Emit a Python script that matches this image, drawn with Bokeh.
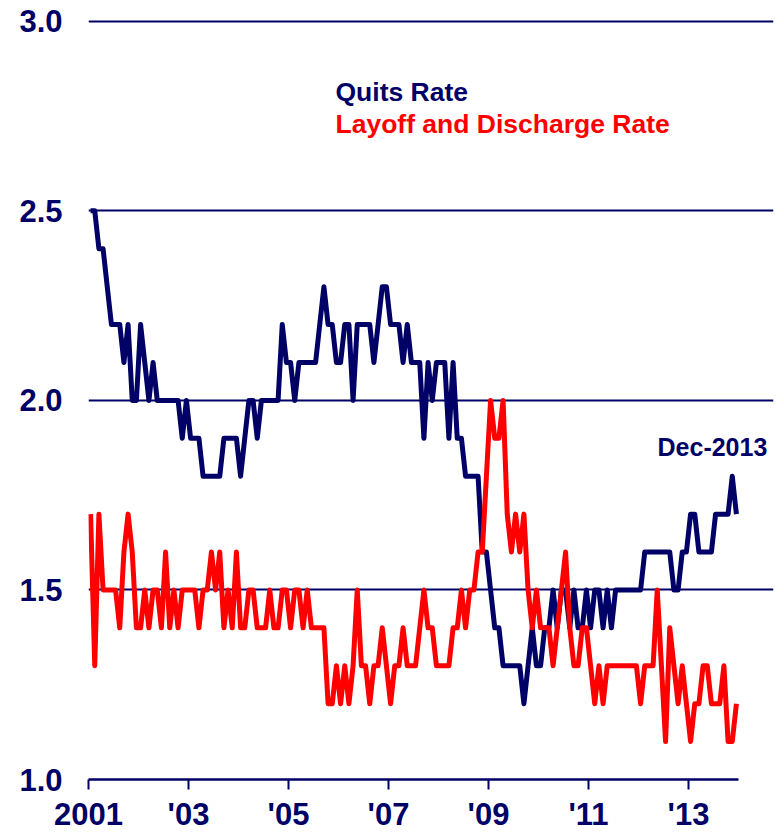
from bokeh.plotting import figure
from bokeh.models import Range1d, FixedTicker, Label, PrintfTickFormatter
from bokeh.embed import file_html
from bokeh.resources import INLINE

years = list(range(2001, 2014))

# Monthly rates (%), Jan 2001 .. Dec 2013, one row per year
quits_rate = [
    2.5, 2.5, 2.4, 2.4, 2.3, 2.2, 2.2, 2.2, 2.1, 2.2, 2.0, 2.0,  # 2001
    2.2, 2.1, 2.0, 2.1, 2.0, 2.0, 2.0, 2.0, 2.0, 2.0, 1.9, 2.0,  # 2002
    1.9, 1.9, 1.9, 1.8, 1.8, 1.8, 1.8, 1.8, 1.9, 1.9, 1.9, 1.9,  # 2003
    1.8, 1.9, 2.0, 2.0, 1.9, 2.0, 2.0, 2.0, 2.0, 2.0, 2.2, 2.1,  # 2004
    2.1, 2.0, 2.1, 2.1, 2.1, 2.1, 2.1, 2.2, 2.3, 2.2, 2.2, 2.1,  # 2005
    2.1, 2.2, 2.2, 2.0, 2.2, 2.2, 2.2, 2.2, 2.1, 2.2, 2.3, 2.3,  # 2006
    2.2, 2.2, 2.2, 2.1, 2.2, 2.1, 2.1, 2.1, 1.9, 2.1, 2.0, 2.1,  # 2007
    2.1, 2.1, 1.9, 2.1, 1.9, 1.9, 1.8, 1.8, 1.8, 1.8, 1.6, 1.6,  # 2008
    1.5, 1.4, 1.4, 1.3, 1.3, 1.3, 1.3, 1.3, 1.2, 1.3, 1.4, 1.3,  # 2009
    1.3, 1.4, 1.4, 1.5, 1.4, 1.5, 1.5, 1.4, 1.5, 1.4, 1.4, 1.5,  # 2010
    1.4, 1.5, 1.5, 1.4, 1.5, 1.4, 1.5, 1.5, 1.5, 1.5, 1.5, 1.5,  # 2011
    1.5, 1.6, 1.6, 1.6, 1.6, 1.6, 1.6, 1.6, 1.5, 1.5, 1.6, 1.6,  # 2012
    1.7, 1.7, 1.6, 1.6, 1.6, 1.6, 1.7, 1.7, 1.7, 1.7, 1.8, 1.7,  # 2013
]

layoff_rate = [
    1.7, 1.3, 1.7, 1.5, 1.5, 1.5, 1.5, 1.4, 1.6, 1.7, 1.6, 1.4,  # 2001
    1.4, 1.5, 1.4, 1.5, 1.5, 1.4, 1.6, 1.4, 1.5, 1.4, 1.5, 1.5,  # 2002
    1.5, 1.5, 1.4, 1.5, 1.5, 1.6, 1.5, 1.6, 1.4, 1.5, 1.4, 1.6,  # 2003
    1.4, 1.4, 1.5, 1.5, 1.4, 1.4, 1.4, 1.5, 1.4, 1.4, 1.5, 1.5,  # 2004
    1.4, 1.5, 1.5, 1.4, 1.5, 1.4, 1.4, 1.4, 1.4, 1.2, 1.2, 1.3,  # 2005
    1.2, 1.3, 1.2, 1.3, 1.5, 1.3, 1.3, 1.2, 1.3, 1.3, 1.4, 1.3,  # 2006
    1.2, 1.3, 1.3, 1.4, 1.3, 1.3, 1.3, 1.4, 1.5, 1.4, 1.4, 1.3,  # 2007
    1.3, 1.3, 1.3, 1.4, 1.4, 1.5, 1.4, 1.5, 1.5, 1.6, 1.6, 1.8,  # 2008
    2.0, 1.9, 1.9, 2.0, 1.7, 1.6, 1.7, 1.6, 1.7, 1.5, 1.4, 1.5,  # 2009
    1.4, 1.4, 1.4, 1.3, 1.4, 1.5, 1.6, 1.4, 1.3, 1.3, 1.4, 1.4,  # 2010
    1.3, 1.2, 1.3, 1.2, 1.3, 1.3, 1.3, 1.3, 1.3, 1.3, 1.3, 1.3,  # 2011
    1.2, 1.3, 1.3, 1.3, 1.5, 1.3, 1.1, 1.4, 1.3, 1.2, 1.3, 1.2,  # 2012
    1.1, 1.2, 1.2, 1.3, 1.3, 1.2, 1.2, 1.2, 1.3, 1.1, 1.1, 1.2,  # 2013
]

tick_years = [2001, 2003, 2005, 2007, 2009, 2011, 2013]
tick_labels = ["2001", "'03", "'05", "'07", "'09", "'11", "'13"]
y_ticks = [1.0, 1.5, 2.0, 2.5, 3.0]

NAVY = "#000066"
RED = "#FF0000"
FONT = "Liberation Sans"

# mid-month positions
x = [yr + (m + 0.5) / 12.0 for yr in years for m in range(12)]
x_start, x_end = years[0], years[-1] + 1

p = figure(
    width=784, height=834,
    x_range=Range1d(x_start, x_end + 0.7), y_range=Range1d(1.0, 3.01),
    output_backend="svg", toolbar_location=None,
    min_border_left=88, min_border_right=11,
    min_border_top=17, min_border_bottom=53,
    outline_line_color=None,
)
p.background_fill_color = "white"
p.border_fill_color = "white"

# grid
p.xgrid.visible = False
p.ygrid.ticker = FixedTicker(ticks=y_ticks)
p.ygrid.grid_line_color = NAVY
p.ygrid.grid_line_width = 2
p.ygrid.bounds = (x_start, x_end)

# y axis
p.yaxis.ticker = FixedTicker(ticks=y_ticks)
p.yaxis.formatter = PrintfTickFormatter(format="%.1f")
p.yaxis.axis_line_color = None
p.yaxis.major_tick_line_color = None
p.yaxis.minor_tick_line_color = None
p.yaxis.major_tick_out = 0
p.yaxis.major_tick_in = 0
p.yaxis.major_label_standoff = 26
p.yaxis.major_label_text_font = FONT
p.yaxis.major_label_text_font_style = "bold"
p.yaxis.major_label_text_font_size = "31px"
p.yaxis.major_label_text_color = NAVY

# x axis
p.xaxis.ticker = FixedTicker(ticks=tick_years)
p.xaxis.major_label_overrides = {yr: lab for yr, lab in zip(tick_years, tick_labels)}
p.xaxis.bounds = (x_start, x_end)
p.xaxis.axis_line_color = NAVY
p.xaxis.axis_line_width = 2.5
p.xaxis.major_tick_line_color = NAVY
p.xaxis.major_tick_line_width = 2
p.xaxis.major_tick_out = 10
p.xaxis.major_tick_in = 0
p.xaxis.minor_tick_line_color = None
p.xaxis.major_label_standoff = 7
p.xaxis.major_label_text_font = FONT
p.xaxis.major_label_text_font_style = "bold"
p.xaxis.major_label_text_font_size = "31px"
p.xaxis.major_label_text_color = NAVY

# series
p.line(x, quits_rate, line_color=NAVY, line_width=5, line_join="round")
p.line(x, layoff_rate, line_color=RED, line_width=5, line_join="round")

# legend-like text
p.add_layout(Label(x=2005.94, y=2.813, text="Quits Rate", text_color=NAVY,
                   text_font=FONT, text_font_style="bold", text_font_size="26.5px",
                   text_align="left", text_baseline="alphabetic"))
p.add_layout(Label(x=2005.94, y=2.730, text="Layoff and Discharge Rate", text_color=RED,
                   text_font=FONT, text_font_style="bold", text_font_size="26.5px",
                   text_align="left", text_baseline="alphabetic"))

# end label anchored to the last quits observation
p.add_layout(Label(x=x[-1], y=quits_rate[-1], x_offset=-24, y_offset=67,
                   text="Dec-2013", text_color=NAVY,
                   text_font=FONT, text_font_style="bold", text_font_size="25px",
                   text_align="center", text_baseline="alphabetic"))

open("out.html", "w").write(file_html(p, INLINE))
